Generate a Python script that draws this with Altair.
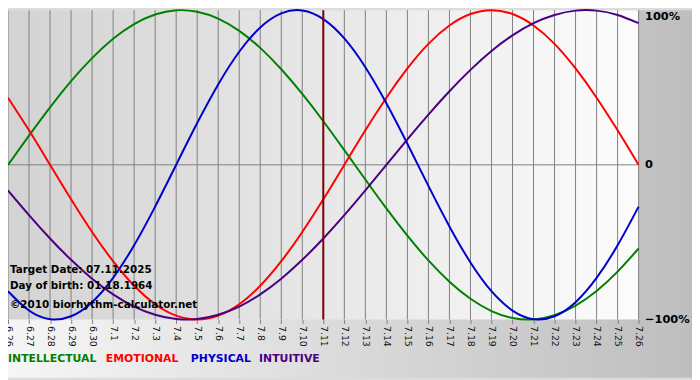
import altair as alt
import pandas as pd

dates = ["6.26", "6.27", "6.28", "6.29", "6.30", "7.1", "7.2", "7.3", "7.4", "7.5",
         "7.6", "7.7", "7.8", "7.9", "7.10", "7.11", "7.12", "7.13", "7.14", "7.15",
         "7.16", "7.17", "7.18", "7.19", "7.20", "7.21", "7.22", "7.23", "7.24", "7.25", "7.26"]

intellectual = [0.0, 0.189, 0.372, 0.541, 0.690, 0.815, 0.910, 0.972, 0.999, 0.990,
                0.945, 0.866, 0.756, 0.618, 0.458, 0.282, 0.095, -0.095, -0.282, -0.458,
                -0.618, -0.756, -0.866, -0.945, -0.990, -0.999, -0.972, -0.910, -0.815, -0.690, -0.541]
emotional = [0.434, 0.223, 0.0, -0.223, -0.434, -0.623, -0.782, -0.901, -0.975, -1.0,
             -0.975, -0.901, -0.782, -0.623, -0.434, -0.223, 0.0, 0.223, 0.434, 0.623,
             0.782, 0.901, 0.975, 1.0, 0.975, 0.901, 0.782, 0.623, 0.434, 0.223, 0.0]
physical = [-0.817, -0.942, -0.998, -0.979, -0.888, -0.731, -0.520, -0.270, 0.0, 0.270,
            0.520, 0.731, 0.888, 0.979, 0.998, 0.942, 0.817, 0.631, 0.398, 0.136,
            -0.136, -0.398, -0.631, -0.817, -0.942, -0.998, -0.979, -0.888, -0.731, -0.520, -0.270]
intuitive = [-0.165, -0.325, -0.476, -0.614, -0.736, -0.837, -0.916, -0.969, -0.997, -0.997,
             -0.969, -0.916, -0.837, -0.736, -0.614, -0.476, -0.325, -0.165, 0.0, 0.165,
             0.325, 0.476, 0.614, 0.736, 0.837, 0.916, 0.969, 0.997, 0.997, 0.969, 0.916]

series_names = ["INTELLECTUAL", "EMOTIONAL", "PHYSICAL", "INTUITIVE"]
series_colors = ["#008000", "#ff0000", "#0000cc", "#4b0082"]
target_date = "7.11"
annotations = ["Target Date: 07.11.2025", "Day of birth: 01.18.1964", "©2010 biorhythm-calculator.net"]

W, H = 638, 313
FONT = "DejaVu Sans"

rows = []
for name, vals in zip(series_names, [intellectual, emotional, physical, intuitive]):
    for d, v in zip(dates, vals):
        rows.append({"date": d, "value": v, "series": name})
df = pd.DataFrame(rows)
one = pd.DataFrame({"a": [0]})

x_enc = alt.X("date:O", sort=dates, scale=alt.Scale(type="point", padding=0),
              axis=alt.Axis(title=None, labelAngle=90, labelFontSize=9.5, labelFont=FONT,
                            labelColor="#111111", grid=False, tickColor="#808080", tickSize=4,
                            domain=False, labelPadding=2, zindex=1))
y_scale = alt.Scale(domain=[-1, 1], nice=False, zero=False)
y_axis = alt.Axis(title=None, orient="right", values=[-1, 0, 1],
                  labelExpr="datum.value == 0 ? '0' : format(datum.value*100, 'd') + '%'",
                  labelFont=FONT, labelFontSize=11.5, labelFontWeight="bold", labelColor="#000000",
                  labelPadding=6, ticks=False, domain=False, grid=False, labelFlush=False,
                  labelBaseline={"condition": {"test": "datum.value == 1", "value": "top"}, "value": "middle"},
                  zindex=1)

outer_grad = alt.LinearGradient(gradient="linear", x1=0, x2=1, y1=0, y2=0,
                                stops=[alt.GradientStop(color="#f6f6f6", offset=0),
                                       alt.GradientStop(color="#bebebe", offset=1)])
inner_grad = alt.LinearGradient(gradient="linear", x1=0, x2=1, y1=0, y2=0,
                                stops=[alt.GradientStop(color="#d3d3d3", offset=0),
                                       alt.GradientStop(color="#fcfcfc", offset=1)])

outer_bg = alt.Chart(one).mark_rect(fill=outer_grad).encode(
    x=alt.value(0), x2=alt.value(W + 54), y=alt.value(0), y2=alt.value(H + 59))
inner_bg = alt.Chart(one).mark_rect(fill=inner_grad).encode(
    x=alt.value(0), x2=alt.value(W), y=alt.value(0), y2=alt.value(H))

grid = alt.Chart(pd.DataFrame({"date": dates})).mark_rule(color="#808080", strokeWidth=1).encode(x=x_enc)
zero = alt.Chart(one).mark_rule(color="#808080", strokeWidth=1).encode(
    y=alt.Y(datum=0, scale=y_scale, axis=y_axis))

lines = alt.Chart(df).mark_line(strokeWidth=2, interpolate="natural", clip=False).encode(
    x=x_enc,
    y=alt.Y("value:Q", scale=y_scale, axis=y_axis),
    color=alt.Color("series:N", scale=alt.Scale(domain=series_names, range=series_colors), legend=None),
    order=alt.value(0),
)

target = alt.Chart(one).mark_rule(color="#800000", strokeWidth=2).encode(x=alt.X(datum=target_date))

ann_layers = []
for i, t in enumerate(annotations):
    ann_layers.append(alt.Chart(one).mark_text(
        text=t, align="left", baseline="middle", font=FONT, fontSize=10.5, fontWeight="bold",
        color="#000000").encode(x=alt.value(2), y=alt.value(263 + [0, 16, 35][i])))

legend_x = [0, 99, 185, 254]
leg_layers = []
for name, col, lx in zip(series_names, series_colors, legend_x):
    leg_layers.append(alt.Chart(one).mark_text(
        text=name, align="left", baseline="middle", font=FONT, fontSize=11, fontWeight="bold",
        color=col).encode(x=alt.value(lx), y=alt.value(353)))

chart = alt.layer(outer_bg, inner_bg, grid, zero, lines, target, *ann_layers, *leg_layers).properties(
    width=W, height=H,
    autosize=alt.AutoSizeParams(type="none"),
    padding={"left": 0, "top": 0, "right": 54, "bottom": 59},
    background="#dcdcdc",
).configure_view(stroke=None)

chart.save("out.html", embed_options={"renderer": "svg", "actions": False})
